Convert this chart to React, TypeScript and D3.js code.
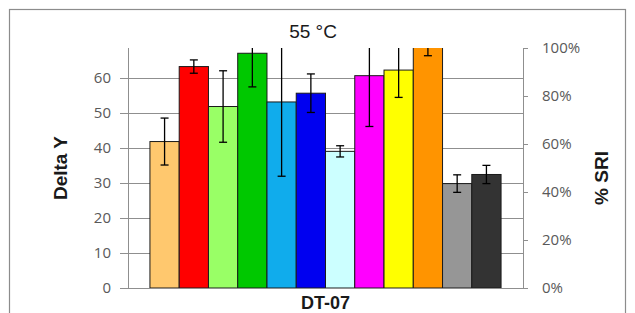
import React from "react";
import * as d3 from "d3";

// one category, twelve series
const category = "DT-07";
const seriesNames = ["s1", "s2", "s3", "s4", "s5", "s6", "s7", "s8", "s9", "s10", "s11", "s12"];
const values = [41.8, 63.2, 51.8, 67.0, 53.1, 55.6, 39.0, 60.6, 62.2, 70.0, 29.8, 32.4];
const errors = [6.7, 1.9, 10.2, 9.6, 21.2, 5.5, 1.6, 14.5, 7.8, 3.7, 2.5, 2.6];
const colors = [
  "#FFC86E", "#FF0000", "#99FF66", "#00C800", "#10ACEC", "#0000F0",
  "#CCFFFF", "#FF00FF", "#FFFF00", "#FF9400", "#969696", "#333333",
];
const leftTicks = [0, 10, 20, 30, 40, 50, 60];
const rightTicks = [0, 0.2, 0.4, 0.6, 0.8, 1];

const W = 635;
const H = 313;
const plot = { left: 128, right: 523, top: 48, bottom: 288 };

const App: React.FC = () => {
  const y = d3.scaleLinear().domain([0, 68.5]).range([plot.bottom, plot.top]);
  const yR = d3.scaleLinear().domain([0, 1]).range([plot.bottom, plot.top]);
  const x0 = d3.scaleBand<string>().domain([category]).range([plot.left, plot.right]).padding(0);

  // excel style gap width 150%
  const bw = x0.bandwidth();
  const barW = bw / (seriesNames.length + 1.5);
  const start = (x0(category) ?? 0) + barW * 0.75;
  const x1 = d3
    .scaleBand<string>()
    .domain(seriesNames)
    .range([start, start + barW * seriesNames.length])
    .padding(0);

  const tickFont = "'Open Sans', 'DejaVu Sans', sans-serif";
  const titleFont = "'Liberation Sans', Arial, sans-serif";

  return (
    <div style={{ position: "absolute", left: 0, top: 0 }}>
      <svg width={W} height={H} style={{ display: "block", background: "#fff" }}>
        <defs>
          <clipPath id="plotClip">
            <rect x={plot.left} y={plot.top} width={plot.right - plot.left} height={plot.bottom - plot.top} />
          </clipPath>
        </defs>
        <rect x={9.5} y={9.5} width={616} height={330} fill="#fff" stroke="#8c8c8c" strokeWidth={1.2} />

        {/* gridlines */}
        {leftTicks.map((t) => (
          <line
            key={"g" + t}
            x1={plot.left - 8}
            x2={plot.right}
            y1={Math.round(y(t)) + 0.5}
            y2={Math.round(y(t)) + 0.5}
            stroke="#8f8f8f"
            strokeWidth={1}
          />
        ))}
        {leftTicks.map((t) => (
          <text
            key={"l" + t}
            x={111}
            y={y(t)}
            dy="0.36em"
            textAnchor="end"
            fontFamily={tickFont}
            fontSize={15}
            fill="#595959"
          >
            {t}
          </text>
        ))}

        {/* bars */}
        <g clipPath="url(#plotClip)">
          {seriesNames.map((s, i) => (
            <rect
              key={s}
              x={x1(s)}
              y={y(values[i])}
              width={x1.bandwidth()}
              height={plot.bottom - y(values[i])}
              fill={colors[i]}
              stroke="#1a1a1a"
              strokeWidth={1}
            />
          ))}
          {seriesNames.map((s, i) => {
            const cx = (x1(s) ?? 0) + x1.bandwidth() / 2;
            const hi = y(values[i] + errors[i]);
            const lo = y(values[i] - errors[i]);
            return (
              <g key={"e" + s} stroke="#000" strokeWidth={1.3}>
                <line x1={cx} x2={cx} y1={hi} y2={lo} />
                <line x1={cx - 4} x2={cx + 4} y1={hi} y2={hi} />
                <line x1={cx - 4} x2={cx + 4} y1={lo} y2={lo} />
              </g>
            );
          })}
        </g>

        {/* axes */}
        <line x1={plot.left + 0.5} x2={plot.left + 0.5} y1={plot.top} y2={plot.bottom} stroke="#8f8f8f" />
        <line x1={plot.right + 0.5} x2={plot.right + 0.5} y1={plot.top} y2={plot.bottom} stroke="#8f8f8f" />
        <line x1={plot.left} x2={plot.right + 4} y1={plot.bottom + 0.5} y2={plot.bottom + 0.5} stroke="#8f8f8f" />
        {rightTicks.map((t) => (
          <g key={"r" + t}>
            <line
              x1={plot.right}
              x2={plot.right + 5}
              y1={Math.round(yR(t)) + 0.5}
              y2={Math.round(yR(t)) + 0.5}
              stroke="#8f8f8f"
            />
            <text
              x={542}
              y={yR(t)}
              dy="0.36em"
              fontFamily={tickFont}
              fontSize={15}
              fill="#595959"
            >
              {d3.format(".0%")(t)}
            </text>
          </g>
        ))}

        {/* titles */}
        <text x={313} y={38} textAnchor="middle" fontFamily={titleFont} fontSize={19} fill="#1a1a1a">
          55 °C
        </text>
        <text
          transform={`translate(67,168) rotate(-90)`}
          textAnchor="middle"
          fontFamily={titleFont}
          fontWeight="bold"
          fontSize={19}
          fill="#1a1a1a"
        >
          Delta Y
        </text>
        <text
          transform={`translate(608,178) rotate(-90)`}
          textAnchor="middle"
          fontFamily={titleFont}
          fontWeight="bold"
          fontSize={19}
          fill="#1a1a1a"
        >
          % SRI
        </text>
        <text
          x={(x0(category) ?? 0) + bw / 2}
          y={309}
          textAnchor="middle"
          fontFamily={titleFont}
          fontWeight="bold"
          fontSize={18}
          fill="#1a1a1a"
        >
          {category}
        </text>
      </svg>
    </div>
  );
};

export default App;
